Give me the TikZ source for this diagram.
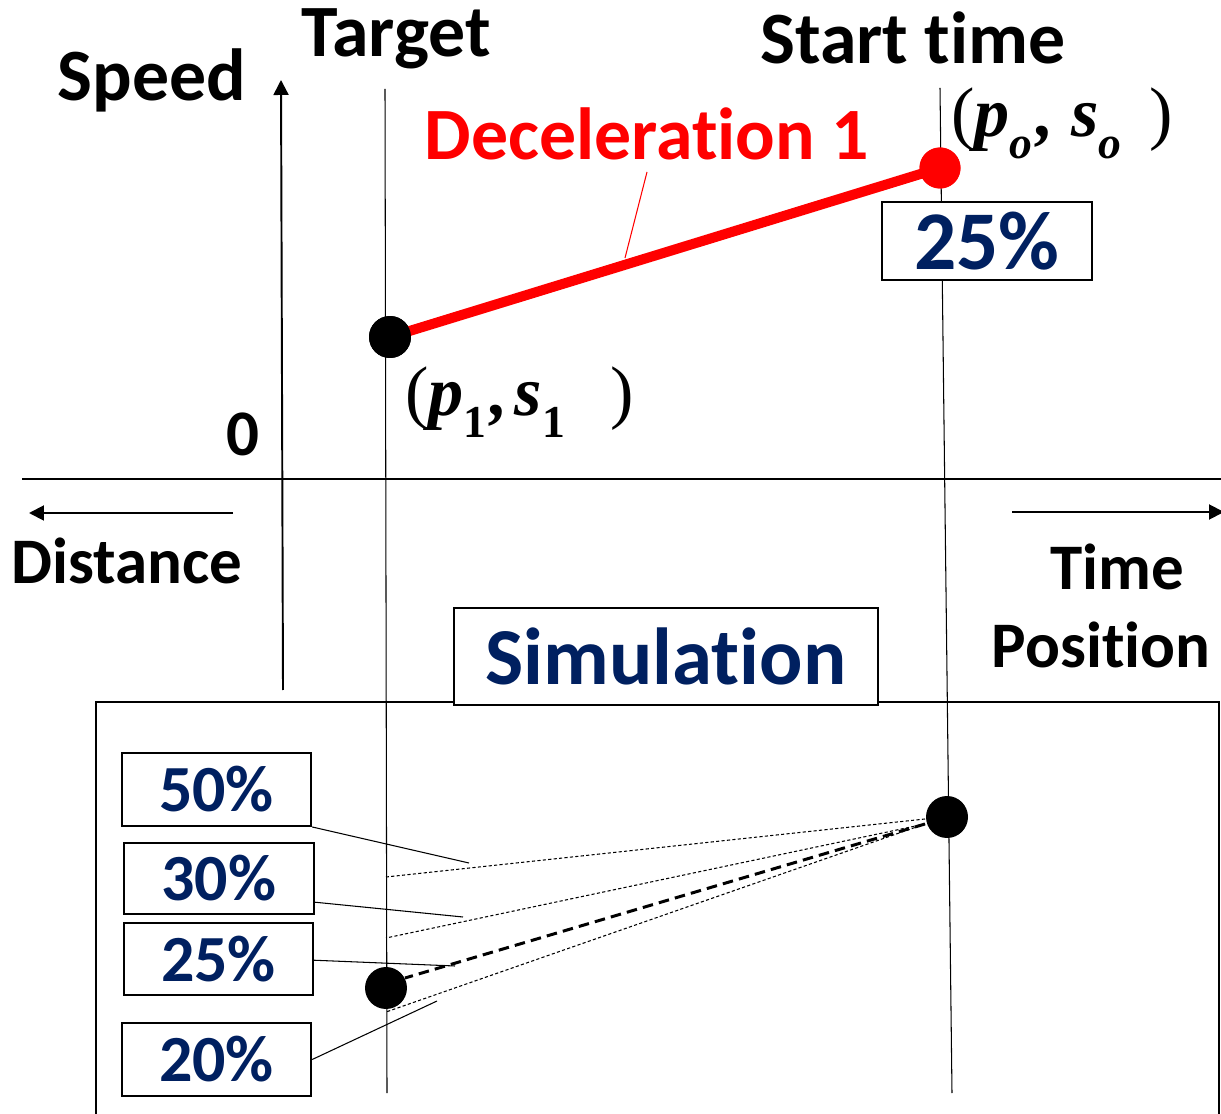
\documentclass[tikz,border=0pt]{standalone}
\usepackage{fontspec}
\setmainfont{Carlito}[Ligatures=NoCommon]
\newfontfamily\lserif{Liberation Serif}
\usetikzlibrary{arrows.meta}
\definecolor{navy}{RGB}{0,32,96}
\definecolor{decred}{RGB}{255,0,0}

\newcommand\bi[1]{{\bfseries\itshape #1}}
\newcommand\sub[1]{\raisebox{-0.3em}{\fontsize{26pt}{26pt}\selectfont #1}\hspace{0.05em}}

\tikzset{
  bigtxt/.style={font=\fontsize{42pt}{48pt}\selectfont\bfseries, inner sep=0pt, anchor=base},
  midtxt/.style={font=\fontsize{37pt}{44pt}\selectfont\bfseries, inner sep=0pt, anchor=base},
  pctbox/.style={draw, line width=1.4pt, fill=white, text=navy,
    font=\fontsize{37.5pt}{44pt}\selectfont\bfseries, inner sep=0pt,
    minimum width=3.78cm, minimum height=1.45cm},
  guide/.style={line width=0.6pt},
  axis/.style={line width=1.1pt},
  tip/.style={-{Triangle[length=0.3cm,width=0.3cm]}},
  dot/.style={circle, fill=black, inner sep=0pt, minimum size=0.84cm},
  trial/.style={line width=0.6pt, dash pattern=on 1.8pt off 1.3pt},
  chosen/.style={line width=1.7pt, dash pattern=on 6pt off 3.5pt},
  leader/.style={line width=0.6pt},
  pair/.style={font=\lserif\fontsize{40pt}{48pt}\selectfont, inner sep=0pt, anchor=base west},
}

\begin{document}
\begin{tikzpicture}[x=0.02cm,y=-0.02cm]
\clip (0,0) rectangle (1221,1114);
\fill[white] (0,0) rectangle (1221,1114);

% simulation frame
\draw[line width=1.4pt] (96,1130) -- (96,702) -- (1219,702) -- (1219,1130);

% axes
\draw[line width=0.9pt] (22,479) -- (1221,479);
\draw[axis,tip] (283,690) -- (281,80);
\draw[axis,tip] (233,513) -- (29,513);
\draw[axis,tip] (1012,512) -- (1224,512);

% position guides
\draw[guide] (385,89) -- (387,1093);
\draw[guide] (940,88) -- (952,1093);

% axis labels
\node[bigtxt] (speed) at (152,101) {Speed};
\node[bigtxt] (target) at (396,57) {Target};
\node[bigtxt] (start) at (913,64) {Start time};
\node[midtxt] (zero) at (243,456) {0};
\node[midtxt] (dist) at (127,584) {Distance};
\node[midtxt] (time) at (1117,590) {Time};
\node[midtxt] (pos) at (1101,667) {Position};

% deceleration segment
\node[dot] (p1) at (390,337) {};
\node[dot, fill=decred, minimum size=0.82cm] (p0) at (940,168) {};
\draw[decred, line width=5.7pt] (p1.center) -- (p0.center);
\node[dot] at (p1) {};
\node[dot, fill=decred, minimum size=0.82cm] at (p0) {};
\node[font=\fontsize{42pt}{48pt}\selectfont\bfseries, text=decred, inner sep=0pt, anchor=base]
  (dec) at (647,160) {Deceleration 1};
\coordinate (decfoot) at (647,172);
\coordinate (decmid) at (625,258);
\draw[decred, line width=0.6pt] (decfoot) -- (decmid);

\node[pair] (lab0) at (951,137)
  {(\bi{p}\sub{\bi{o}}\bi{,} \bi{s}\sub{\bi{o}}\hspace{0.35em})};
\node[pair] (lab1) at (405,416)
  {(\bi{p}\sub{\bfseries 1}\bi{,}\hspace{0.1em}\bi{s}\sub{\bfseries 1}\hspace{0.6em})};

\node[pctbox, minimum width=4.2cm, minimum height=1.56cm,
  font=\fontsize{47.5pt}{54pt}\selectfont\bfseries] (pct0) at (987,241) {25\%};

% simulation panel
\node[draw, line width=1.6pt, fill=white, text=navy, inner sep=0pt,
  minimum width=8.48cm, minimum height=1.94cm,
  font=\fontsize{46pt}{54pt}\selectfont\bfseries] (sim) at (666,656.5) {Simulation};

\node[dot] (q0) at (947,817) {};
\node[dot] (q1) at (386,988) {};

\coordinate (s0) at (925,819);
\coordinate (s1) at (925,824);
\coordinate (e50) at (386,877);
\coordinate (e30) at (386,938);
\coordinate (e20) at (386,1012);
\coordinate (e25) at (405,978);

\draw[trial] (s0) -- (e50);
\draw[trial] (s1) -- (e30);
\draw[chosen] (s1) -- (e25);
\draw[trial] (s1) -- (e20);

\node[pctbox] (b50) at (216.5,789.5) {50\%};
\node[pctbox, minimum width=3.8cm, minimum height=1.42cm] (b30) at (219,878.5) {30\%};
\node[pctbox, minimum height=1.44cm] (b25) at (218.5,959) {25\%};
\node[pctbox] (b20) at (216.5,1059.5) {20\%};

\coordinate (m50) at (469,863);
\coordinate (m30) at (463,917);
\coordinate (m25) at (455,966);
\coordinate (m20) at (437,1001);

\draw[leader] (b50.south east) -- (m50);
\draw[leader] ([yshift=0.26cm]b30.south east) -- (m30);
\draw[leader] ([yshift=0.72cm]b25.south east) -- (m25);
\draw[leader] (b20.east) -- (m20);
\end{tikzpicture}
\end{document}
